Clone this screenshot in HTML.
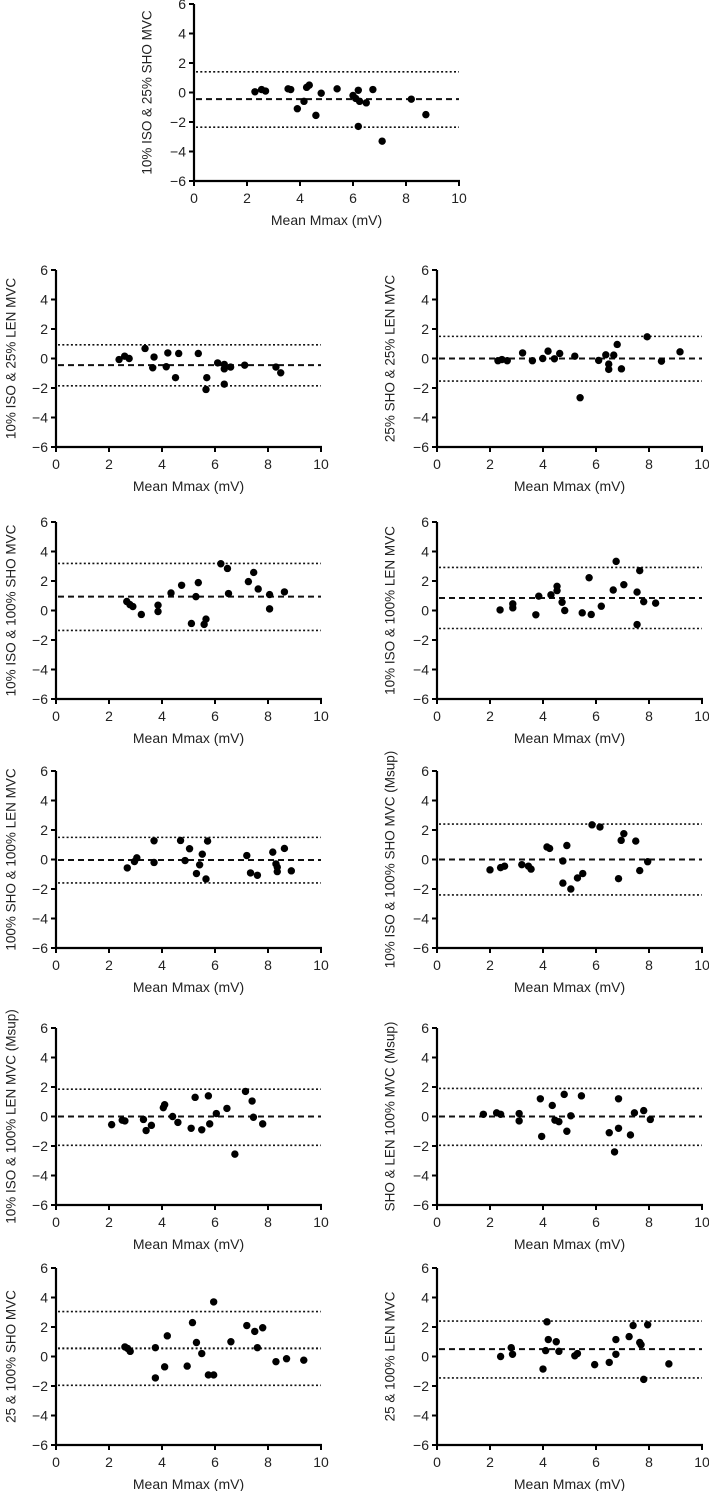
<!DOCTYPE html>
<html><head><meta charset="utf-8"><style>
html,body{margin:0;padding:0;background:#fff;}
svg{display:block;font-family:"Liberation Sans",Arial,sans-serif;}
</style></head><body>
<svg id="fig" width="709" height="1491" viewBox="0 0 709 1491" xmlns="http://www.w3.org/2000/svg"></svg>
<script>
const xTicks=[0,2,4,6,8,10];
const yTicks=[-6,-4,-2,0,2,4,6];
const yTickLabels=["\u22126","\u22124","\u22122","0","2","4","6"];
const titles=["10% ISO & 25% SHO  MVC","10% ISO & 25% LEN  MVC","25% SHO & 25% LEN  MVC","10% ISO & 100% SHO  MVC","10% ISO & 100% LEN  MVC","100% SHO & 100% LEN  MVC","10% ISO & 100% SHO MVC (Msup)","10% ISO & 100% LEN MVC (Msup)","SHO & LEN 100% MVC (Msup)","25 & 100% SHO MVC","25 & 100% LEN MVC"];
const p1X=[2.3,2.55,2.7,3.55,3.65,3.9,4.15,4.25,4.35,4.6,4.8,5.4,6.0,6.1,6.2,6.2,6.25,6.5,6.75,7.1,8.2,8.75];
const p1Y=[0.05,0.2,0.1,0.25,0.2,-1.1,-0.6,0.35,0.5,-1.55,-0.05,0.25,-0.2,-0.4,0.15,-2.3,-0.6,-0.7,0.2,-3.3,-0.45,-1.5];
const p1L=[-0.45,1.4,-2.35];
const p2X=[2.38,2.59,2.76,3.36,3.7,3.65,4.16,4.22,4.51,4.63,5.37,5.69,5.66,6.1,6.35,6.35,6.35,6.59,7.12,8.3,8.48];
const p2Y=[-0.07,0.16,0,0.68,0.1,-0.63,-0.56,0.38,-1.3,0.34,0.34,-1.3,-2.1,-0.3,-0.4,-0.7,-1.74,-0.58,-0.45,-0.58,-0.97];
const p2L=[-0.45,0.93,-1.85];
const p3X=[2.3,2.45,2.65,3.23,3.6,3.99,4.19,4.43,4.63,5.2,5.4,6.1,6.37,6.48,6.48,6.67,6.8,6.96,7.93,8.47,9.17];
const p3Y=[-0.15,-0.07,-0.15,0.38,-0.15,0,0.5,-0.02,0.34,0.16,-2.66,-0.13,0.25,-0.38,-0.74,0.23,0.95,-0.7,1.47,-0.18,0.45];
const p3L=[0,1.5,-1.53];
const p4X=[2.67,2.79,2.9,3.22,3.85,3.85,4.34,4.74,5.28,5.37,5.11,5.59,5.66,6.22,6.47,6.51,7.26,7.46,7.63,8.06,8.06,8.62];
const p4Y=[0.61,0.4,0.27,-0.27,0.36,-0.07,1.19,1.71,0.94,1.89,-0.88,-0.94,-0.58,3.17,2.85,1.15,1.96,2.58,1.46,1.08,0.11,1.26];
const p4L=[0.94,3.19,-1.35];
const p5X=[2.38,2.86,2.86,3.73,3.84,4.3,4.53,4.53,4.72,4.82,5.48,5.82,5.74,6.2,6.65,6.76,7.05,7.55,7.65,7.55,7.8,8.25];
const p5Y=[0.04,0.18,0.45,-0.29,0.97,1.06,1.64,1.35,0.56,0,-0.16,-0.27,2.22,0.29,1.39,3.33,1.75,1.25,2.7,-0.95,0.6,0.5];
const p5L=[0.85,2.92,-1.22];
const p6X=[2.69,2.96,3.05,3.7,3.7,4.7,4.87,5.04,5.3,5.42,5.52,5.66,5.72,7.2,7.34,7.6,8.18,8.3,8.35,8.35,8.62,8.88];
const p6Y=[-0.57,-0.14,0.11,1.27,-0.2,1.29,-0.07,0.73,-0.95,-0.36,0.36,-1.32,1.25,0.27,-0.91,-1.07,0.5,-0.3,-0.52,-0.82,0.75,-0.77];
const p6L=[-0.03,1.5,-1.59];
const p7X=[2.0,2.4,2.55,3.2,3.45,3.55,4.15,4.25,4.75,4.9,4.75,5.05,5.3,5.5,5.85,6.15,6.85,6.95,7.05,7.5,7.65,7.95];
const p7Y=[-0.7,-0.55,-0.45,-0.35,-0.45,-0.65,0.85,0.75,-0.1,0.95,-1.6,-2.0,-1.25,-0.95,2.35,2.2,-1.3,1.3,1.75,1.25,-0.75,-0.15];
const p7L=[0,2.4,-2.4];
const p8X=[2.1,2.5,2.6,3.3,3.4,3.6,4.05,4.1,4.4,4.6,5.1,5.25,5.5,5.75,5.8,6.05,6.45,6.75,7.15,7.4,7.45,7.8];
const p8Y=[-0.55,-0.25,-0.3,-0.2,-0.95,-0.6,0.6,0.8,0,-0.4,-0.8,1.3,-0.9,1.4,-0.5,0.2,0.55,-2.55,1.7,1.05,-0.05,-0.5];
const p8L=[0,1.85,-1.95];
const p9X=[1.75,2.25,2.4,3.1,3.1,3.9,3.95,4.35,4.45,4.6,4.8,4.9,5.05,5.45,6.5,6.7,6.85,6.85,7.3,7.45,7.8,8.05];
const p9Y=[0.15,0.25,0.15,0.2,-0.3,1.2,-1.35,0.75,-0.25,-0.35,1.5,-1.0,0.05,1.4,-1.1,-2.4,1.2,-0.8,-1.25,0.25,0.4,-0.2];
const p9L=[0,1.9,-1.95];
const p10X=[2.6,2.7,2.8,3.75,3.75,4.1,4.2,4.95,5.15,5.3,5.5,5.75,5.95,5.95,6.6,7.2,7.5,7.6,7.8,8.3,8.7,9.35];
const p10Y=[0.65,0.55,0.35,0.6,-1.45,-0.7,1.4,-0.65,2.3,0.95,0.2,-1.25,-1.25,3.7,1.0,2.1,1.7,0.6,1.95,-0.35,-0.15,-0.25];
const p10L=[0.55,3.05,-1.95];
const p11X=[2.4,2.8,2.85,4.0,4.1,4.15,4.2,4.5,4.6,5.2,5.3,5.95,6.5,6.75,6.75,7.25,7.4,7.65,7.7,7.8,7.95,8.75];
const p11Y=[0,0.6,0.15,-0.85,0.4,2.35,1.15,1.0,0.35,0.05,0.2,-0.55,-0.4,1.15,0.15,1.35,2.1,0.95,0.8,-1.55,2.15,-0.5];
const p11L=[0.5,2.4,-1.45];

const NS="http://www.w3.org/2000/svg";
const svg=document.getElementById('fig');
function mk(tag,attrs,parent){const e=document.createElementNS(NS,tag);for(const k in attrs)e.setAttribute(k,attrs[k]);(parent||svg).appendChild(e);return e;}
const panels=[
 {x0:194,yTop:4,xs:p1X,ys:p1Y,L:p1L,meanDot:false},
 {x0:56,yTop:270,xs:p2X,ys:p2Y,L:p2L,meanDot:false},
 {x0:437,yTop:270,xs:p3X,ys:p3Y,L:p3L,meanDot:false},
 {x0:56,yTop:522,xs:p4X,ys:p4Y,L:p4L,meanDot:false},
 {x0:437,yTop:522,xs:p5X,ys:p5Y,L:p5L,meanDot:false},
 {x0:56,yTop:771,xs:p6X,ys:p6Y,L:p6L,meanDot:false},
 {x0:437,yTop:771,xs:p7X,ys:p7Y,L:p7L,meanDot:false},
 {x0:56,yTop:1028,xs:p8X,ys:p8Y,L:p8L,meanDot:false},
 {x0:437,yTop:1028,xs:p9X,ys:p9Y,L:p9L,meanDot:false},
 {x0:56,yTop:1268,xs:p10X,ys:p10Y,L:p10L,meanDot:true},
 {x0:437,yTop:1268,xs:p11X,ys:p11Y,L:p11L,meanDot:false}
];
const W=265,H=177;
panels.forEach((p,i)=>{
 const g=mk('g',{});
 
 
 const sx=v=>p.x0+v/10*W;
 const sy=v=>p.yTop+(6-v)/12*H;
 const xEnd=sx(10);
 p.L.forEach((v,j)=>{
  const ln=mk('line',{x1:sx(0)+2,x2:xEnd,y1:sy(v),y2:sy(v),stroke:'#111','stroke-width':j===0?2:1.6,'stroke-dasharray':(j===0&&!p.meanDot)?'6,4':'2,2.3'},g);
  
  
 });
 p.xs.forEach((xv,k)=>{
  const c=mk('circle',{cx:sx(xv),cy:sy(p.ys[k]),r:3.7,fill:'#000'},g);
  
  
 });
 const ya=mk('line',{x1:sx(0),x2:sx(0),y1:sy(6),y2:sy(-6)+1,stroke:'#000','stroke-width':2.2},g);
 
 
 const xa=mk('line',{x1:sx(0)-1,x2:xEnd+1,y1:sy(-6),y2:sy(-6),stroke:'#000','stroke-width':2.2},g);
 
 
 yTicks.forEach((v,k)=>{
  mk('line',{x1:sx(0)-5,x2:sx(0),y1:sy(v),y2:sy(v),stroke:'#000','stroke-width':2},g);
  const t=mk('text',{x:sx(0)-8,y:sy(v)+5,'font-size':14,'text-anchor':'end',fill:'#222'},g);
  t.textContent=yTickLabels[k];
  
  
 });
 xTicks.forEach(v=>{
  mk('line',{x1:sx(v),x2:sx(v),y1:sy(-6),y2:sy(-6)+5,stroke:'#000','stroke-width':2},g);
  const t=mk('text',{x:sx(v),y:sy(-6)+22,'font-size':14,'text-anchor':'middle',fill:'#222'},g);
  t.textContent=String(v);
  
  
 });
 const xt=mk('text',{x:(sx(0)+xEnd)/2,y:sy(-6)+44,'font-size':14,'text-anchor':'middle',fill:'#222'},g);
 xt.textContent='Mean Mmax (mV)';
 
 
 const cx=Math.max(sx(0)-47,11), cy=(sy(6)+sy(-6))/2;
 const yt=mk('text',{x:cx,y:cy,'font-size':13.5,'text-anchor':'middle',fill:'#222',transform:'rotate(-90 '+cx+' '+cy+')','dominant-baseline':'central','xml:space':'preserve'},g);
 yt.textContent=titles[i];
 
 
});
</script>
</body></html>
